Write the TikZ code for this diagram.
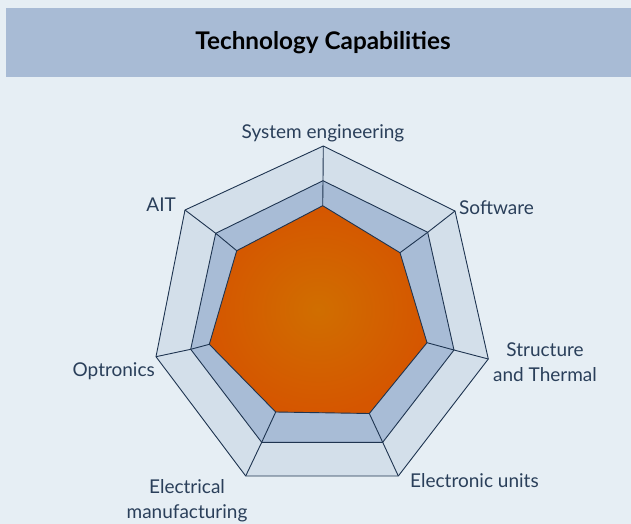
\documentclass[tikz,border=0pt]{standalone}
\usepackage{fontspec}
\setmainfont{Lato}
\definecolor{bgc}{HTML}{E6EEF4}
\definecolor{band}{HTML}{A8BBD5}
\definecolor{ringout}{HTML}{D3DFEA}
\definecolor{ringmid}{HTML}{A8BCD6}
\definecolor{edge}{HTML}{1E3450}
\definecolor{txt}{HTML}{2A3F5A}
\definecolor{orin}{HTML}{D06E00}
\definecolor{orout}{HTML}{D55600}
\tikzset{
  ln/.style={draw=edge, line width=0.9pt, line join=miter},
  lbl/.style={text=txt, font=\fontsize{19}{25}\selectfont, inner sep=0pt, align=center},
}
\begin{document}
\begin{tikzpicture}[x=1pt,y=-1pt]
\fill[bgc] (0,0) rectangle (631,524);
\useasboundingbox (0,0) rectangle (631,524);
\fill[band] (6,8) rectangle (631,77);
\node[font=\fontsize{24.3}{28}\selectfont\bfseries, inner sep=0pt, anchor=base] (title) at (323,50) {Technology Capabilities};
% outer vertices
\coordinate (o0) at (323.3,146);
\coordinate (o1) at (455,211);
\coordinate (o2) at (488.3,359);
\coordinate (o3) at (398.3,476);
\coordinate (o4) at (245.7,476);
\coordinate (o5) at (156,356.7);
\coordinate (o6) at (185,210);
% middle
\coordinate (m0) at (323,180.7);
\coordinate (m1) at (427.7,232.3);
\coordinate (m2) at (454,350);
\coordinate (m3) at (382.7,442.3);
\coordinate (m4) at (261.7,442.3);
\coordinate (m5) at (190.7,349.3);
\coordinate (m6) at (215.7,233.3);
% inner
\coordinate (i0) at (322.7,205.7);
\coordinate (i1) at (400,252.7);
\coordinate (i2) at (427,342.7);
\coordinate (i3) at (369.3,413.5);
\coordinate (i4) at (275.7,412);
\coordinate (i5) at (209.3,344.3);
\coordinate (i6) at (236.7,250.7);
\filldraw[ln, fill=ringout] (o0)--(o1)--(o2)--(o3)--(o4)--(o5)--(o6)--cycle;
\filldraw[ln, fill=ringmid] (m0)--(m1)--(m2)--(m3)--(m4)--(m5)--(m6)--cycle;
\foreach \k in {0,...,6}{\draw[ln] (o\k)--(m\k);}
\foreach \k in {0,...,6}{\draw[ln] (m\k)--(i\k);}
\shade[inner color=orin, outer color=orout] (i0)--(i1)--(i2)--(i3)--(i4)--(i5)--(i6)--cycle;
\draw[ln] (i0)--(i1)--(i2)--(i3)--(i4)--(i5)--(i6)--cycle;
% labels
\node[lbl, anchor=base] (l0) at (323,138) {System engineering};
\node[lbl, anchor=base east] (l6) at (176,211) {AIT};
\node[lbl, anchor=base west] (l1) at (459,214) {Software};
\node[lbl, anchor=base east] (l5) at (155,376) {Optronics};
\node[lbl, anchor=north] (l2) at (545,343) {Structure\\and Thermal};
\node[lbl, anchor=base west] (l3) at (410,487) {Electronic units};
\node[lbl, anchor=north] (l4) at (187,479) {Electrical\\manufacturing};
\end{tikzpicture}
\end{document}
